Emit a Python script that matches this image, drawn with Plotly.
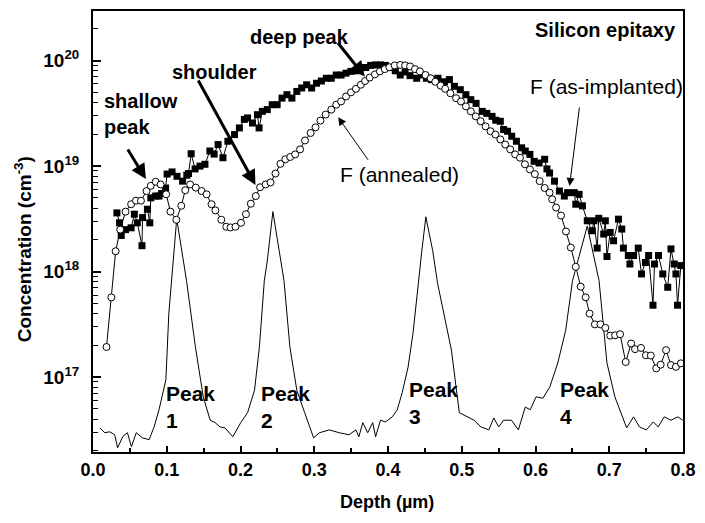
import plotly.graph_objects as go

# ---------------- data ----------------
depth_implanted = [0.0324, 0.0360, 0.0383, 0.0441, 0.0517, 0.0561, 0.0601, 0.0664, 0.0672, 0.0738,
                   0.0770, 0.0784, 0.0850, 0.0895, 0.0931, 0.0984, 0.1005, 0.1072, 0.1139, 0.1215,
                   0.1272, 0.1295, 0.1331, 0.1384, 0.1451, 0.1518, 0.1585, 0.1642, 0.1696, 0.1762,
                   0.1829, 0.1919, 0.1985, 0.2052, 0.2096, 0.2163, 0.2230, 0.2252, 0.2296, 0.2363,
                   0.2430, 0.2497, 0.2563, 0.2630, 0.2697, 0.2764, 0.2830, 0.2897, 0.2964, 0.3031,
                   0.3097, 0.3164, 0.3231, 0.3298, 0.3364, 0.3431, 0.3498, 0.3565, 0.3632, 0.3698,
                   0.3765, 0.3832, 0.3898, 0.3965, 0.4032, 0.4099, 0.4166, 0.4232, 0.4299, 0.4389,
                   0.4455, 0.4522, 0.4589, 0.4677, 0.4766, 0.4833, 0.4900, 0.4980, 0.5056, 0.5123,
                   0.5194, 0.5278, 0.5340, 0.5411, 0.5461, 0.5523, 0.5567, 0.5621, 0.5678, 0.5741,
                   0.5812, 0.5861, 0.5924, 0.5981, 0.6048, 0.6124, 0.6155, 0.6191, 0.6258, 0.6324,
                   0.6391, 0.6435, 0.6525, 0.6546, 0.6591, 0.6636, 0.6702, 0.6769, 0.6792, 0.6836,
                   0.6858, 0.6925, 0.6947, 0.6969, 0.7013, 0.7059, 0.7125, 0.7170, 0.7192, 0.7259,
                   0.7280, 0.7330, 0.7393, 0.7437, 0.7490, 0.7534, 0.7593, 0.7614, 0.7668, 0.7726,
                   0.7793, 0.7837, 0.7881, 0.7904, 0.7926, 0.7971]
conc_implanted = [3.6e18, 2.9e18, 2.2e18, 2.5e18, 2.6e18, 3.5e18, 2.9e18, 1.76e18, 3.25e18, 3.9e18,
                  2.9e18, 5.0e18, 5.2e18, 5.2e18, 5.5e18, 6.2e18, 8.4e18, 8.8e18, 8.0e18, 7.2e18,
                  8.2e18, 8.5e18, 1.31e19, 9.4e18, 1.0e19, 1.04e19, 1.39e19, 1.30e19, 1.60e19, 1.20e19,
                  1.72e19, 1.99e19, 2.3e19, 2.77e19, 2.86e19, 2.56e19, 3.07e19, 2.3e19, 3.3e19, 3.43e19,
                  3.82e19, 3.82e19, 4.41e19, 4.75e19, 4.41e19, 5.1e19, 5.5e19, 5.9e19, 5.5e19, 6.1e19,
                  6.4e19, 6.8e19, 6.8e19, 7.3e19, 7.3e19, 7.6e19, 7.9e19, 8.0e19, 8.6e19, 8.6e19,
                  9.0e19, 9.1e19, 9.1e19, 9.0e19, 8.6e19, 8.0e19, 7.3e19, 7.8e19, 7.2e19, 6.8e19,
                  7.3e19, 6.8e19, 6.6e19, 6.8e19, 6.3e19, 6.6e19, 5.7e19, 5.3e19, 4.75e19, 4.26e19,
                  3.93e19, 3.3e19, 3.16e19, 2.96e19, 2.72e19, 2.66e19, 2.22e19, 2.14e19, 1.92e19, 1.72e19,
                  1.49e19, 1.39e19, 1.29e19, 1.11e19, 1.07e19, 1.16e19, 9.4e18, 8.6e18, 7.2e18, 5.8e18,
                  5.2e18, 5.6e18, 5.6e18, 4.35e18, 5.4e18, 4.2e18, 3.03e18, 2.44e18, 3.03e18, 1.67e18,
                  3.2e18, 2.27e18, 3.03e18, 1.39e18, 2.35e18, 1.96e18, 3.14e18, 2.53e18, 1.67e18, 1.42e18,
                  1.18e18, 1.42e18, 1.67e18, 9.5e17, 1.22e18, 1.42e18, 4.8e17, 1.18e18, 1.42e18, 9.5e17,
                  7.1e17, 1.64e18, 1.18e18, 9.5e17, 4.8e17, 1.14e18]

depth_annealed = [0.0183, 0.0249, 0.0307, 0.0369, 0.0441, 0.0517, 0.0583, 0.0650, 0.0725, 0.0783,
                  0.0850, 0.0917, 0.0992, 0.1050, 0.1130, 0.1197, 0.1251, 0.1317, 0.1393, 0.1473,
                  0.1540, 0.1607, 0.1660, 0.1740, 0.1807, 0.1865, 0.1932, 0.2007, 0.2074, 0.2140,
                  0.2207, 0.2265, 0.2341, 0.2407, 0.2474, 0.2541, 0.2608, 0.2674, 0.2741, 0.2808,
                  0.2875, 0.2951, 0.3017, 0.3084, 0.3155, 0.3231, 0.3298, 0.3364, 0.3431, 0.3498,
                  0.3565, 0.3632, 0.3689, 0.3752, 0.3823, 0.3890, 0.3956, 0.4019, 0.4090, 0.4166,
                  0.4232, 0.4299, 0.4366, 0.4432, 0.4508, 0.4579, 0.4641, 0.4713, 0.4775, 0.4846,
                  0.4923, 0.4989, 0.5056, 0.5123, 0.5190, 0.5256, 0.5323, 0.5390, 0.5457, 0.5523,
                  0.5590, 0.5657, 0.5724, 0.5790, 0.5857, 0.5924, 0.5991, 0.6057, 0.6124, 0.6191,
                  0.6226, 0.6279, 0.6346, 0.6413, 0.6479, 0.6546, 0.6613, 0.6680, 0.6733, 0.6805,
                  0.6880, 0.6947, 0.7013, 0.7080, 0.7147, 0.7223, 0.7297, 0.7350, 0.7430, 0.7497,
                  0.7563, 0.7637, 0.7697, 0.7770, 0.7837, 0.7904, 0.7971]
conc_annealed = [1.93e17, 5.7e17, 1.56e18, 2.5e18, 3.7e18, 4.35e18, 4.7e18, 4.7e18, 5.8e18, 6.5e18,
                 7.1e18, 6.7e18, 5.4e18, 3.7e18, 3.1e18, 4.2e18, 5.9e18, 6.7e18, 6.25e18, 5.8e18,
                 5.4e18, 4.35e18, 3.8e18, 3.1e18, 2.66e18, 2.62e18, 2.66e18, 2.9e18, 3.5e18, 4.4e18,
                 5.2e18, 6.3e18, 6.7e18, 7.0e18, 8.5e18, 1.05e19, 1.16e19, 1.22e19, 1.29e19, 1.44e19,
                 1.75e19, 2.06e19, 2.33e19, 2.7e19, 3.08e19, 3.43e19, 3.82e19, 4.1e19, 4.57e19, 5.0e19,
                 5.4e19, 5.9e19, 6.4e19, 6.9e19, 7.4e19, 7.9e19, 8.3e19, 8.65e19, 9.0e19, 9.1e19,
                 9.0e19, 8.8e19, 8.3e19, 7.9e19, 7.3e19, 6.8e19, 6.3e19, 5.8e19, 5.4e19, 4.9e19,
                 4.4e19, 4.1e19, 3.68e19, 3.3e19, 2.96e19, 2.66e19, 2.38e19, 2.14e19, 1.99e19, 1.79e19,
                 1.6e19, 1.44e19, 1.29e19, 1.2e19, 1.04e19, 9.3e18, 8.4e18, 7.2e18, 6.2e18, 5.6e18,
                 4.85e18, 4.05e18, 3.4e18, 2.4e18, 1.69e18, 1.11e18, 7.2e17, 5.7e17, 4.0e17, 3.16e17,
                 3.16e17, 2.93e17, 2.47e17, 2.49e17, 2.55e17, 1.39e17, 2.08e17, 1.84e17, 1.89e17, 1.61e17,
                 1.6e17, 1.21e17, 1.31e17, 1.8e17, 1.3e17, 1.25e17, 1.35e17]

depth_peaks = [0.0093, 0.0160, 0.0227, 0.0294, 0.0334, 0.0405, 0.0467, 0.0521, 0.0587, 0.0668,
               0.0761, 0.0828, 0.0895, 0.0935, 0.0988, 0.1028, 0.1068, 0.1135, 0.1268, 0.1389,
               0.1495, 0.1589, 0.1656, 0.1722, 0.1789, 0.1896, 0.2003, 0.2096, 0.2190, 0.2256,
               0.2323, 0.2363, 0.2439, 0.2541, 0.2590, 0.2670, 0.2764, 0.2870, 0.2991, 0.3071,
               0.3204, 0.3338, 0.3471, 0.3565, 0.3605, 0.3658, 0.3725, 0.3792, 0.3832, 0.3898,
               0.3965, 0.4059, 0.4125, 0.4192, 0.4272, 0.4339, 0.4406, 0.4459, 0.4513, 0.4606,
               0.4673, 0.4860, 0.4967, 0.5073, 0.5167, 0.5260, 0.5367, 0.5434, 0.5501, 0.5567,
               0.5674, 0.5768, 0.5861, 0.5928, 0.6008, 0.6101, 0.6195, 0.6302, 0.6409, 0.6502,
               0.6702, 0.6862, 0.6969, 0.7076, 0.7236, 0.7330, 0.7410, 0.7503, 0.7597, 0.7664,
               0.7744, 0.7837, 0.7931, 0.7997]
conc_peaks = [3.3e16, 2.97e16, 3.03e16, 2.84e16, 2.14e16, 2.74e16, 2.97e16, 2.19e16, 2.97e16, 2.66e16,
              2.55e16, 3.37e16, 4.9e16, 6.5e16, 9.4e16, 4.0e17, 8.2e17, 3.16e18, 8.2e17, 1.92e17,
              6.5e16, 3.9e16, 3.7e16, 3.37e16, 3.3e16, 2.72e16, 3.7e16, 4.6e16, 7.5e16, 1.92e17,
              8.2e17, 1.26e18, 3.7e18, 1.26e18, 8.2e17, 1.92e17, 7.5e16, 4.6e16, 2.66e16, 2.97e16,
              3.16e16, 2.97e16, 2.84e16, 3.16e16, 2.72e16, 3.7e16, 2.97e16, 3.7e16, 2.72e16, 3.9e16,
              3.76e16, 4.2e16, 4.9e16, 7.1e16, 1.24e17, 2.6e17, 7.7e17, 1.58e18, 3.3e18, 1.58e18,
              7.7e17, 1.8e17, 4.6e16, 4.2e16, 3.9e16, 3.37e16, 3.16e16, 4.1e16, 3.37e16, 3.9e16,
              3.9e16, 3.16e16, 5.2e16, 4.9e16, 6.5e16, 6.3e16, 8.1e16, 1.36e17, 2.77e17, 8.2e17,
              2.7e18, 8.2e17, 1.36e17, 6.5e16, 3.3e16, 4.2e16, 3.37e16, 3.16e16, 3.76e16, 3.37e16,
              4.2e16, 3.9e16, 4.2e16, 3.9e16]

x_tick_vals = [0.0, 0.1, 0.2, 0.3, 0.4, 0.5, 0.6, 0.7, 0.8]
y_tick_vals = [1e17, 1e18, 1e19, 1e20]
y_tick_text = ["10<sup>17</sup>", "10<sup>18</sup>", "10<sup>19</sup>", "10<sup>20</sup>"]
y_minor_vals = [k * 10.0 ** n for n in range(16, 21) for k in range(2, 10)]
x_minor_vals = [0.05, 0.15, 0.25, 0.35, 0.45, 0.55, 0.65, 0.75]

FONT = "Liberation Sans, Arial, Helvetica, sans-serif"

fig = go.Figure()
fig.add_trace(go.Scatter(x=depth_peaks, y=conc_peaks, mode="lines",
                         line=dict(color="black", width=1), showlegend=False))
fig.add_trace(go.Scatter(x=depth_implanted, y=conc_implanted, mode="lines+markers",
                         line=dict(color="black", width=1),
                         marker=dict(symbol="square", size=7, color="black"),
                         showlegend=False))
fig.add_trace(go.Scatter(x=depth_annealed, y=conc_annealed, mode="lines+markers",
                         line=dict(color="black", width=1),
                         marker=dict(symbol="circle", size=7, color="white",
                                     line=dict(color="black", width=1)),
                         showlegend=False))

fig.update_xaxes(range=[0, 0.8], tickvals=x_tick_vals, tickformat=".1f",
                 ticks="inside", ticklen=6, tickwidth=1.5, tickcolor="black",
                 minor=dict(tickvals=x_minor_vals, ticks="inside", ticklen=4,
                            tickwidth=1.5, tickcolor="black", showgrid=False),
                 showline=True, linewidth=2, linecolor="black", mirror=True,
                 showgrid=False, zeroline=False,
                 tickfont=dict(family=FONT, size=18, color="black", weight="bold"))
fig.update_yaxes(type="log", range=[16.29, 20.47], tickvals=y_tick_vals, ticktext=y_tick_text,
                 ticks="inside", ticklen=8, tickwidth=1.5, tickcolor="black",
                 minor=dict(tickvals=y_minor_vals, ticks="inside", ticklen=5,
                            tickwidth=1.2, tickcolor="black", showgrid=False),
                 showline=True, linewidth=2, linecolor="black", mirror=True,
                 showgrid=False, zeroline=False, ticklabelstandoff=8,
                 tickfont=dict(family=FONT, size=19, color="black", weight="bold"))

ann = []
bold = dict(family=FONT, size=20, color="black", weight="bold")
reg = dict(family=FONT, size=21, color="black")

# axis titles
ann.append(dict(text="Concentration (cm<sup>-3</sup>)", xref="paper", yref="paper",
                x=-0.1185, y=0.46, textangle=-90, showarrow=False,
                xanchor="center", yanchor="middle",
                font=dict(family=FONT, size=19, color="black", weight="bold")))
ann.append(dict(text="Depth (\u00b5m)", xref="paper", yref="paper", x=0.4975, y=-0.113,
                showarrow=False, xanchor="center", yanchor="middle",
                font=dict(family=FONT, size=18, color="black", weight="bold")))

# text labels
ann.append(dict(text="Silicon epitaxy", x=0.7931, y=20.292, xanchor="right", yanchor="middle",
                showarrow=False, font=dict(family=FONT, size=20, color="black", weight="bold")))
ann.append(dict(text="deep peak", x=0.2797, y=20.226, xanchor="center", yanchor="middle",
                showarrow=False, font=bold))
ann.append(dict(text="shoulder", x=0.1642, y=19.896, xanchor="center", yanchor="middle",
                showarrow=False, font=bold))
ann.append(dict(text="shallow<br>peak", x=0.0120, y=19.491, xanchor="left", yanchor="middle",
                align="left", showarrow=False, font=bold))
ann.append(dict(text="F (annealed)", x=0.3324, y=18.925, xanchor="left", yanchor="middle",
                showarrow=False, font=reg))
ann.append(dict(text="F (as-implanted)", x=0.5901, y=19.755, xanchor="left", yanchor="middle",
                showarrow=False, font=reg))
for lbl, px, py in [("Peak<br>1", 0.0961, 16.712), ("Peak<br>2", 0.2252, 16.712),
                    ("Peak<br>3", 0.4255, 16.752), ("Peak<br>4", 0.6302, 16.755)]:
    ann.append(dict(text=lbl, x=px, y=py, xanchor="left", yanchor="middle", align="left",
                    showarrow=False, font=dict(family=FONT, size=21, color="black", weight="bold")))

# arrows
thick = dict(showarrow=True, arrowhead=2, arrowsize=1.0, arrowwidth=3, arrowcolor="black",
             text="", standoff=0)
thin = dict(showarrow=True, arrowhead=2, arrowsize=1.6, arrowwidth=1, arrowcolor="black",
            text="", standoff=0)
ann.append(dict(x=0.0717, y=18.877, ax=-19, ay=-31, **thick))
ann.append(dict(x=0.2203, y=18.821, ax=-58, ay=-106, **thick))
ann.append(dict(x=0.3685, y=19.849, ax=-28, ay=-35, **thick))
ann.append(dict(x=0.3324, y=19.462, ax=31, ay=44, **thin))
ann.append(dict(x=0.6462, y=18.811, ax=10, ay=-80, **thin))

fig.update_layout(width=705, height=523, margin=dict(l=93, r=13, t=9, b=71),
                  paper_bgcolor="white", plot_bgcolor="white", annotations=ann,
                  showlegend=False)

fig.write_html("out.html")
